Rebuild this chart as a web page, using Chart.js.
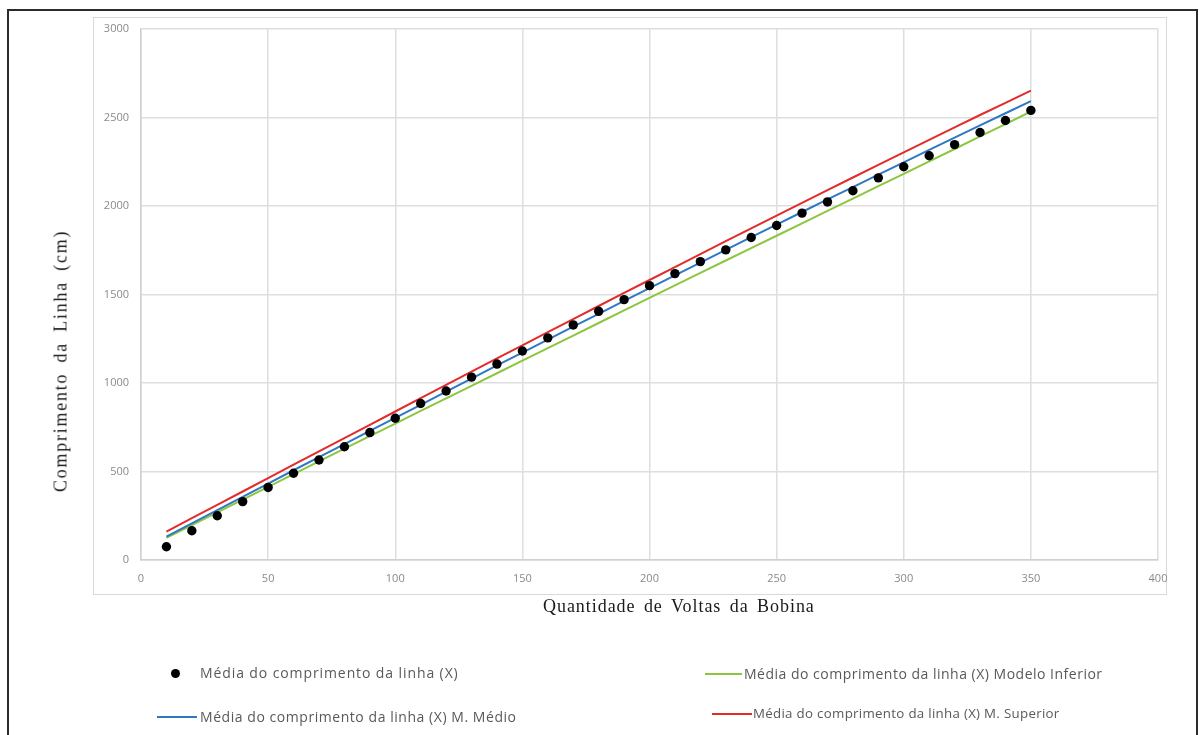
<!DOCTYPE html>
<html lang="pt">
<head>
<meta charset="utf-8">
<title>Comprimento da Linha x Quantidade de Voltas da Bobina</title>
<script src="https://cdn.jsdelivr.net/npm/chart.js@4.4.1/dist/chart.umd.min.js"></script>
<style>
  html, body { margin: 0; padding: 0; background: #fff; }
  body { width: 1202px; height: 735px; position: relative; overflow: hidden; }
  #frame { position: absolute; left: 7px; top: 9px; width: 1191px; height: 740px;
           border: 2px solid #2b2b2b; box-sizing: border-box; }
  #area { position: absolute; left: 93px; top: 17px; width: 1074px; height: 578px;
          border: 1px solid #d9d9d9; box-sizing: border-box; }
  #chart { position: absolute; left: 0; top: 0; }
  .axis-title { position: absolute; font-family: "Liberation Serif", "DejaVu Serif", serif;
                font-size: 18px; color: #1a1a1a; white-space: nowrap; }
  #xtitle { left: 543px; top: 596px; letter-spacing: 0.95px; word-spacing: 3px; }
  #ytitle { left: 61px; top: 361px; letter-spacing: 1.75px; word-spacing: 4px;
            transform: translate(-50%, -50%) rotate(-90deg); }
  .leg { position: absolute; font-family: "Open Sans", "Noto Sans", sans-serif; color: #595959;
         white-space: nowrap; line-height: 1; }
  .leg .txt { position: absolute; transform: translateY(-50%); }
  .leg .mark { position: absolute; }
</style>
</head>
<body>
<div id="frame"></div>
<div id="area"></div>
<canvas id="chart" width="1202" height="735"></canvas>
<div id="xtitle" class="axis-title">Quantidade de Voltas da Bobina</div>
<div id="ytitle" class="axis-title">Comprimento da Linha (cm)</div>
<div id="legend"></div>
<script>
// Número de voltas da bobina
const turns = [10, 20, 30, 40, 50, 60, 70, 80, 90, 100,
               110, 120, 130, 140, 150, 160, 170, 180, 190, 200,
               210, 220, 230, 240, 250, 260, 270, 280, 290, 300,
               310, 320, 330, 340, 350];

// Média medida do comprimento da linha (cm)
const meanLength = [75, 165, 250, 330, 410, 490, 565, 640, 720, 801,
                    884, 955, 1033, 1107, 1181, 1255, 1328, 1405, 1471, 1550,
                    1618, 1686, 1752, 1822, 1890, 1960, 2023, 2086, 2159, 2222,
                    2284, 2347, 2415, 2483, 2540];

// Modelo inferior
const modelLower = [125, 197, 269, 341, 413, 485, 557, 629, 700, 771,
                    842, 913, 984, 1055, 1126, 1197, 1268, 1339, 1410, 1481,
                    1552, 1622, 1692, 1762, 1832, 1902, 1972, 2042, 2112, 2182,
                    2252, 2322, 2393, 2463, 2534];

// Modelo médio
const modelMid = [132, 207, 282, 357, 432, 507, 581, 655, 729, 803,
                  877, 951, 1025, 1099, 1172, 1245, 1318, 1391, 1464, 1536,
                  1608, 1680, 1752, 1824, 1895, 1966, 2037, 2107, 2177, 2247,
                  2317, 2386, 2455, 2524, 2593];

// Modelo superior
const modelUpper = [160, 236, 311, 387, 463, 539, 614, 689, 764, 839,
                    914, 989, 1064, 1139, 1213, 1287, 1361, 1435, 1509, 1582,
                    1655, 1728, 1801, 1874, 1946, 2018, 2090, 2161, 2232, 2303,
                    2374, 2444, 2514, 2583, 2652];

const xTicks = [0, 50, 100, 150, 200, 250, 300, 350, 400];
const yTicks = [0, 500, 1000, 1500, 2000, 2500, 3000];

const seriesLabels = [
  'Média do comprimento da linha (X)',
  'Média do comprimento da linha (X) Modelo Inferior',
  'Média do comprimento da linha (X) M. Médio',
  'Média do comprimento da linha (X) M. Superior'
];
const seriesColors = ['#000000', '#8cc63f', '#2f78c4', '#e32b2b'];

const toPoints = ys => turns.map((t, i) => ({ x: t, y: ys[i] }));
const plainLabel = v => String(v);

const chart = new Chart(document.getElementById('chart'), {
  type: 'scatter',
  data: {
    datasets: [
      { label: seriesLabels[0], data: toPoints(meanLength), showLine: false,
        pointRadius: 4.7, pointHoverRadius: 4.7, pointBackgroundColor: seriesColors[0],
        pointBorderColor: seriesColors[0], pointBorderWidth: 0, order: 0 },
      { label: seriesLabels[1], data: toPoints(modelLower), showLine: true,
        borderColor: seriesColors[1], borderWidth: 2, pointRadius: 0, tension: 0, order: 3 },
      { label: seriesLabels[2], data: toPoints(modelMid), showLine: true,
        borderColor: seriesColors[2], borderWidth: 2, pointRadius: 0, tension: 0, order: 2 },
      { label: seriesLabels[3], data: toPoints(modelUpper), showLine: true,
        borderColor: seriesColors[3], borderWidth: 2, pointRadius: 0, tension: 0, order: 1 }
    ]
  },
  options: {
    responsive: false,
    animation: false,
    layout: { padding: { left: 0, right: 44, top: 29, bottom: 145 } },
    plugins: { legend: { display: false }, tooltip: { enabled: false } },
    scales: {
      x: {
        type: 'linear', min: 0, max: 400,
        afterBuildTicks: s => { s.ticks = xTicks.map(v => ({ value: v })); },
        afterFit: s => { s.height = 30; },
        grid: { color: '#dedede', lineWidth: 1.5, drawTicks: false },
        border: { display: true, color: '#d0d0d0', width: 1.5 },
        ticks: { padding: 12, color: '#8a8a8a', callback: plainLabel,
                 font: { family: 'Open Sans', size: 11 } }
      },
      y: {
        type: 'linear', min: 0, max: 3000,
        afterBuildTicks: s => { s.ticks = yTicks.map(v => ({ value: v })); },
        afterFit: s => { s.width = 141; },
        grid: { color: '#dedede', lineWidth: 1.5, drawTicks: false },
        border: { display: true, color: '#d0d0d0', width: 1.5 },
        ticks: { padding: 12, color: '#8a8a8a', callback: plainLabel,
                 font: { family: 'Open Sans', size: 11 } }
      }
    }
  }
});

// Legenda em duas colunas
const legendItems = [
  { i: 0, markX: 175, y: 673, textX: 200, size: 14, ls: 0.9 },
  { i: 2, markX: 157, y: 717, textX: 200, size: 14, ls: 0.55, lineW: 40 },
  { i: 1, markX: 705, y: 674, textX: 744, size: 14, ls: 0.5, lineW: 37 },
  { i: 3, markX: 712, y: 714, textX: 753, size: 13.3, ls: 0.3, lineW: 40 }
];
const legend = document.getElementById('legend');
legendItems.forEach(it => {
  const wrap = document.createElement('div');
  wrap.className = 'leg';
  const mark = document.createElement('div');
  mark.className = 'mark';
  if (it.i === 0) {
    Object.assign(mark.style, { left: (it.markX - 4.5) + 'px', top: (it.y - 4.5) + 'px',
      width: '9px', height: '9px', borderRadius: '50%', background: seriesColors[0] });
  } else {
    Object.assign(mark.style, { left: it.markX + 'px', top: (it.y - 1) + 'px',
      width: it.lineW + 'px', height: '2px', background: seriesColors[it.i] });
  }
  const txt = document.createElement('div');
  txt.className = 'txt';
  txt.textContent = seriesLabels[it.i];
  Object.assign(txt.style, { left: it.textX + 'px', top: it.y + 'px',
    fontSize: it.size + 'px', letterSpacing: it.ls + 'px' });
  wrap.appendChild(mark);
  wrap.appendChild(txt);
  legend.appendChild(wrap);
});
</script>
</body>
</html>
